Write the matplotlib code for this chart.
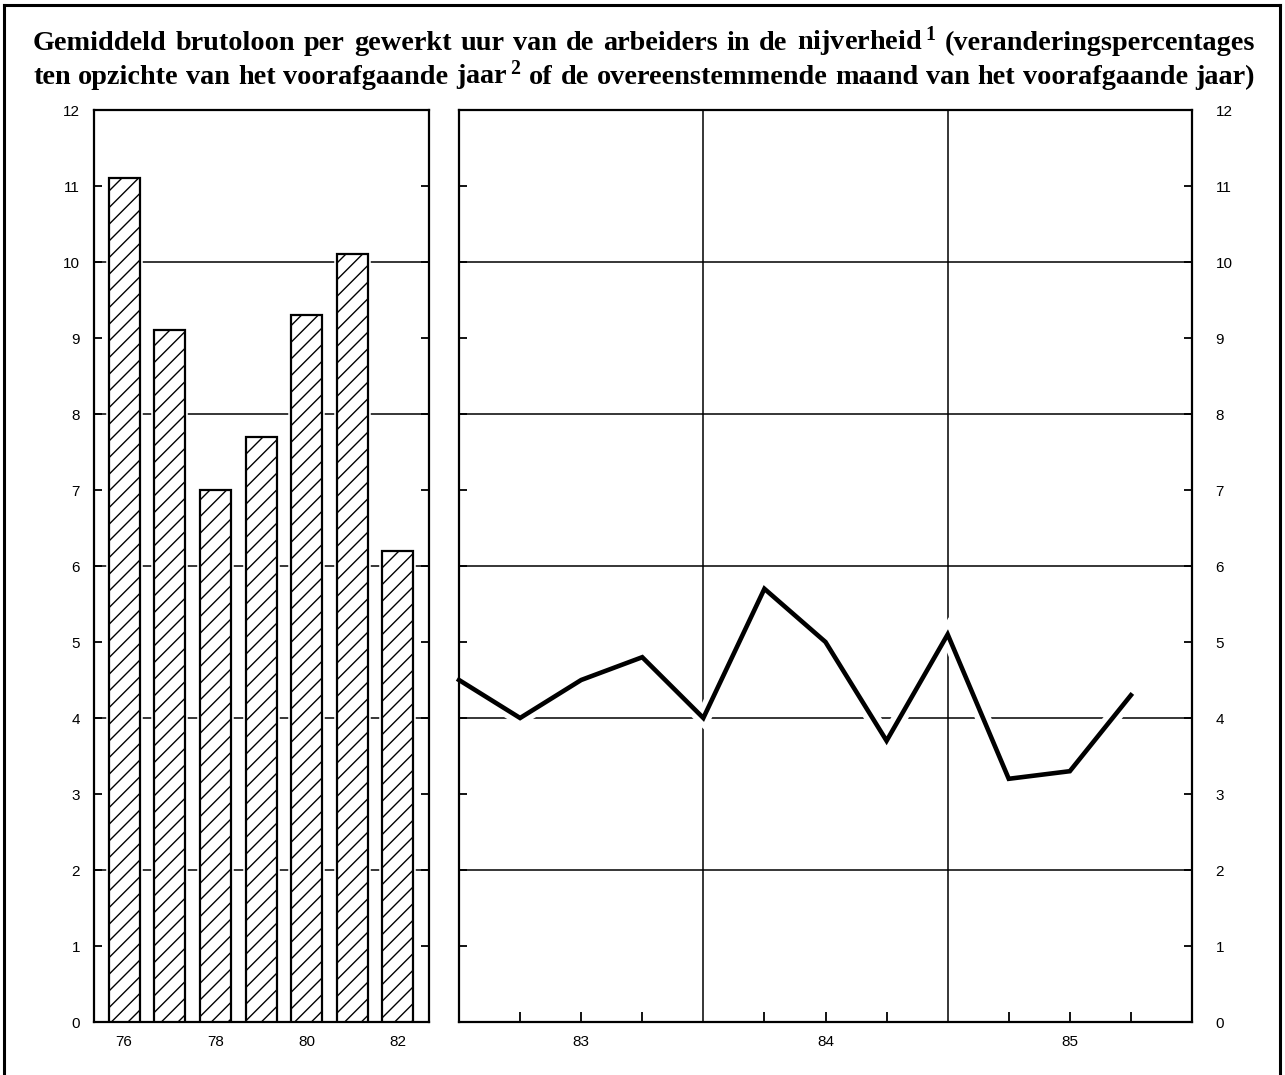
import matplotlib
matplotlib.use('Agg')
import matplotlib.pyplot as plt
import matplotlib.patheffects as pe
from matplotlib.lines import Line2D

# ---------------- data ----------------
bar_years = [76, 77, 78, 79, 80, 81, 82]
bar_values = [11.1, 9.1, 7.0, 7.7, 9.3, 10.1, 6.2]
bar_label_years = [76, 78, 80, 82]
bar_labels = ['76', '78', '80', '82']

line_x = [83.0, 83.25, 83.5, 83.75, 84.0, 84.25, 84.5, 84.75, 85.0, 85.25, 85.5, 85.75]
line_values = [4.5, 4.0, 4.5, 4.8, 4.0, 5.7, 5.0, 3.7, 5.1, 3.2, 3.3, 4.3]
year_label_pos = [83.5, 84.5, 85.5]
year_labels = ['83', '84', '85']
year_bounds = [84, 85]
quarter_ticks = [83.25, 83.75, 84.25, 84.75, 85.25, 85.75]

y_ticks = list(range(0, 13))
y_labels = [str(v) for v in y_ticks]
grid_levels = [2, 4, 6, 8, 10]

title_lines = [
    "Gemiddeld brutoloon per gewerkt uur van de arbeiders in de nijverheid$\\,^{1}$ (veranderingspercentages",
    "ten opzichte van het voorafgaande jaar$\\,^{2}$ of de overeenstemmende maand van het voorafgaande jaar)",
]

# ---------------- style ----------------
W, H = 1285, 1075
plt.rcParams['font.family'] = ['Liberation Sans', 'DejaVu Sans']
plt.rcParams['hatch.linewidth'] = 1.0
plt.rcParams['mathtext.fontset'] = 'custom'
plt.rcParams['mathtext.rm'] = 'Liberation Serif:bold'
plt.rcParams['mathtext.it'] = 'Liberation Serif:bold'
plt.rcParams['mathtext.bf'] = 'Liberation Serif:bold'

fig = plt.figure(figsize=(W / 100, H / 100), dpi=100)

def px_axes(x0, x1, ytop, ybot):
    return [x0 / W, 1 - ybot / H, (x1 - x0) / W, (ybot - ytop) / H]

SP = 1.6
LS = 11
# ---------------- left panel (bars) ----------------
ax1 = fig.add_axes(px_axes(94, 429, 110, 1022))
for lv in grid_levels:
    ax1.axhline(lv, color='black', lw=1.1, zorder=1)
ax1.bar(bar_years, bar_values, width=0.68, color='white', edgecolor='white',
        linewidth=4, zorder=2)
ax1.bar(bar_years, bar_values, width=0.68, color='white', edgecolor='black',
        linewidth=1.6, hatch='//', zorder=3)
ax1.set_xlim(75.34, 82.68)
ax1.set_ylim(0, 12)
ax1.set_xticks(bar_label_years)
ax1.set_xticklabels(bar_labels)
ax1.set_yticks(y_ticks)
ax1.set_yticklabels(y_labels)
ax1.tick_params(axis='x', length=0, pad=9, labelsize=LS)
ax1.tick_params(axis='y', which='major', left=True, right=True, direction='in',
                length=6, width=1.3, pad=10, labelsize=LS)
for s in ax1.spines.values():
    s.set_linewidth(SP)

# ---------------- right panel (line) ----------------
ax2 = fig.add_axes(px_axes(459, 1192, 110, 1022))
for lv in grid_levels:
    ax2.axhline(lv, color='black', lw=1.1, zorder=1)
for xb in year_bounds:
    ax2.axvline(xb, color='black', lw=1.1, zorder=1)
ax2.plot(line_x, line_values, color='black', lw=3.3, solid_joinstyle='miter',
         zorder=3, clip_on=False,
         path_effects=[pe.Stroke(linewidth=11, foreground='white'), pe.Normal()])
ax2.set_xlim(83, 86)
ax2.set_ylim(0, 12)
ax2.set_xticks(year_label_pos)
ax2.set_xticklabels(year_labels)
ax2.set_xticks(quarter_ticks, minor=True)
ax2.tick_params(axis='x', which='both', direction='in', length=7, width=1.3,
                pad=9, labelsize=LS)
ax2.set_yticks(y_ticks)
ax2.set_yticklabels(y_labels)
ax2.tick_params(axis='y', left=True, right=True, labelleft=False, labelright=True,
                direction='in', length=6, width=1.3, pad=17, labelsize=LS)
for s in ax2.spines.values():
    s.set_linewidth(SP)
    s.set_zorder(4)

# ---------------- frame ----------------
fig.add_artist(Line2D([4 / W, 4 / W], [-0.05, 1 - 5 / H], transform=fig.transFigure,
                      color='black', lw=2.2))
fig.add_artist(Line2D([4 / W, 1280 / W], [1 - 5 / H, 1 - 5 / H], transform=fig.transFigure,
                      color='black', lw=2.2))
fig.add_artist(Line2D([1280 / W, 1280 / W], [-0.05, 1 - 5 / H], transform=fig.transFigure,
                      color='black', lw=2.2))

# ---------------- justified title ----------------
fig.canvas.draw()
renderer = fig.canvas.get_renderer()
tx0, tx1 = 33, 1255
baselines = [50, 84]

def make_words(line, size):
    words = line.split(' ')
    ts = [fig.text(0, 0, w, fontsize=size, fontweight='bold',
                   family=['Liberation Serif', 'DejaVu Serif'], va='baseline', ha='left')
          for w in words]
    return ts

size = 20
natural = []
for line in title_lines:
    ts = make_words(line, size)
    ws = [t.get_window_extent(renderer).width for t in ts]
    natural.append(sum(ws) + (len(ts) - 1) * 0.28 * size * 100 / 72)
    for t in ts:
        t.remove()
size = size * (tx1 - tx0) / max(natural)

for line, yb in zip(title_lines, baselines):
    ts = make_words(line, size)
    ws = [t.get_window_extent(renderer).width for t in ts]
    gap = (tx1 - tx0 - sum(ws)) / (len(ts) - 1)
    x = tx0
    for t, w in zip(ts, ws):
        t.set_position((x / W, 1 - yb / H))
        x += w + gap

fig.savefig('out.png', dpi=100)
